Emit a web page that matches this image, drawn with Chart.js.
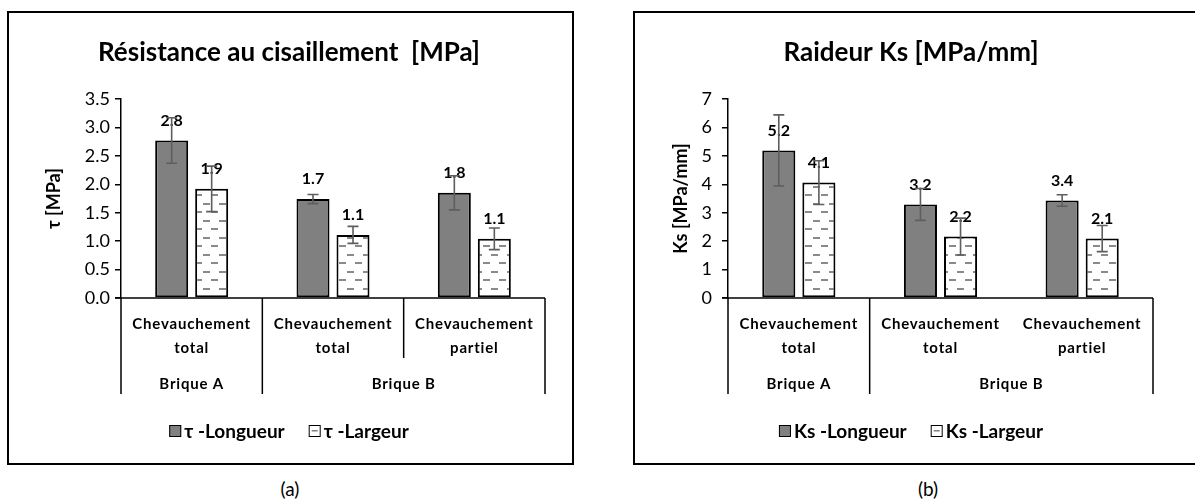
<!DOCTYPE html>
<html lang="fr">
<head>
<meta charset="UTF-8">
<title>Résistance au cisaillement et raideur Ks</title>
<script src="https://cdn.jsdelivr.net/npm/chart.js"></script>
<style>
  html, body { margin: 0; overflow: hidden; }
  body { width: 1195px; height: 501px; position: relative; background: #fff; font-family: Lato, sans-serif; }
  .box { position: absolute; top: 11px; height: 450px; border: 2px solid #000; }
  #boxA { left: 7px; width: 563px; }
  #boxB { left: 633px; width: 562px; border-right: none; }
  .caption { position: absolute; top: 477px; width: 60px; text-align: center; font-size: 19px; color: #000; }
</style>
</head>
<body>
<div class="box" id="boxA"><canvas id="chartA" width="563" height="450"></canvas></div>
<div class="box" id="boxB"><canvas id="chartB" width="560" height="450"></canvas></div>
<div class="caption" style="left:260px">(a)</div>
<div class="caption" style="left:898px">(b)</div>
<script>
// categories (two levels)
const subCategories = [['Chevauchement', 'total'], ['Chevauchement', 'total'], ['Chevauchement', 'partiel']];
const groupLabels = ['Brique A', 'Brique B'];
const groupSpans = [1, 2];

// (a) shear strength
const tauLongueur = [2.77, 1.74, 1.85];
const tauLongueurErr = [0.40, 0.08, 0.30];
const tauLongueurText = ['2.8', '1.7', '1.8'];
const tauLargeur = [1.92, 1.11, 1.04];
const tauLargeurErr = [0.40, 0.15, 0.19];
const tauLargeurText = ['1.9', '1.1', '1.1'];

// (b) stiffness
const ksLongueur = [5.19, 3.29, 3.43];
const ksLongueurErr = [1.25, 0.56, 0.20];
const ksLongueurText = ['5.2', '3.2', '3.4'];
const ksLargeur = [4.06, 2.16, 2.09];
const ksLargeurErr = [0.77, 0.65, 0.46];
const ksLargeurText = ['4.1', '2.2', '2.1'];

const FONT = 'Lato, sans-serif';

function dashPattern() {
  const c = document.createElement('canvas');
  c.width = 16; c.height = 17;
  const g = c.getContext('2d');
  g.fillStyle = '#fff';
  g.fillRect(0, 0, 16, 17);
  g.fillStyle = '#8a8a8a';
  g.fillRect(2, 3, 7, 2);
  g.fillRect(10, 11, 7, 2);
  g.fillRect(0, 11, 1, 2);
  return g.createPattern(c, 'repeat');
}

// error bars + value labels
const barExtras = {
  id: 'barExtras',
  afterDatasetsDraw(chart) {
    const ctx = chart.ctx;
    const y = chart.scales.y;
    ctx.save();
    chart.data.datasets.forEach((ds, di) => {
      chart.getDatasetMeta(di).data.forEach((bar, i) => {
        ctx.font = 'bold 16px ' + FONT;
        ctx.fillStyle = '#000';
        ctx.textAlign = 'center';
        ctx.textBaseline = 'middle';
        ctx.fillText(ds.valueText[i], bar.x, bar.y - 20);
      });
    });
    chart.data.datasets.forEach((ds, di) => {
      chart.getDatasetMeta(di).data.forEach((bar, i) => {
        const yt = y.getPixelForValue(ds.data[i] + ds.errors[i]);
        const yb = y.getPixelForValue(ds.data[i] - ds.errors[i]);
        ctx.strokeStyle = '#5e5e5e';
        ctx.lineWidth = 1.6;
        ctx.beginPath();
        ctx.moveTo(bar.x, yt); ctx.lineTo(bar.x, yb);
        ctx.moveTo(bar.x - 5.5, yt); ctx.lineTo(bar.x + 5.5, yt);
        ctx.moveTo(bar.x - 5.5, yb); ctx.lineTo(bar.x + 5.5, yb);
        ctx.stroke();
      });
    });
    ctx.restore();
  }
};

// multi-level category axis, title, y title, legend
const decorations = {
  id: 'decorations',
  afterDraw(chart, args, o) {
    const ctx = chart.ctx;
    const area = chart.chartArea;
    const x = chart.scales.x;
    const n = subCategories.length;
    const step = (area.right - area.left) / n;
    const bot = area.bottom;
    ctx.save();
    ctx.strokeStyle = '#000';
    ctx.lineWidth = 1.5;
    ctx.beginPath();
    ctx.moveTo(area.left - 6, bot); ctx.lineTo(area.right, bot);
    ctx.stroke();

    // group boundaries (full height) and inner boundaries
    let k = 0;
    const full = [0];
    groupSpans.forEach(s => { k += s; full.push(k); });
    ctx.beginPath();
    full.forEach(b => {
      const px = area.left + b * step;
      ctx.moveTo(px, bot); ctx.lineTo(px, bot + 96);
    });
    if (o.innerLines) {
      for (let b = 1; b < n; b++) {
        if (full.includes(b)) continue;
        const px = area.left + b * step;
        ctx.moveTo(px, bot); ctx.lineTo(px, bot + 60);
      }
    }
    ctx.stroke();

    ctx.fillStyle = '#000';
    ctx.textAlign = 'center';
    ctx.textBaseline = 'middle';
    ctx.font = 'bold 15px ' + FONT;
    ctx.letterSpacing = '0.8px';
    subCategories.forEach((lines, i) => {
      const cx = x.getPixelForValue(i);
      lines.forEach((t, j) => ctx.fillText(t, cx, bot + 26 + j * 24));
    });
    k = 0;
    groupLabels.forEach((g, gi) => {
      const cx = area.left + (k + groupSpans[gi] / 2) * step;
      ctx.fillText(g, cx, bot + 86);
      k += groupSpans[gi];
    });
    ctx.letterSpacing = '0px';

    // title
    ctx.font = 'bold 26px ' + FONT;
    ctx.fillText(o.title, o.centerX, 40);

    // y axis title
    ctx.save();
    ctx.translate(o.yTitleX, (area.top + area.bottom) / 2);
    ctx.rotate(-Math.PI / 2);
    ctx.font = 'bold 18px ' + FONT;
    ctx.fillText(o.yTitle, 0, 0);
    ctx.restore();

    // legend
    ctx.font = 'bold 19px ' + FONT;
    const items = chart.data.datasets.map(ds => ({ ds, w: 12 + 3 + ctx.measureText(ds.label).width }));
    const gap = 24;
    const total = items.reduce((s, it) => s + it.w, 0) + gap * (items.length - 1);
    let lx = o.centerX - total / 2;
    const ly = 418;
    ctx.textAlign = 'left';
    items.forEach(it => {
      ctx.fillStyle = it.ds.legendFill;
      ctx.fillRect(lx, ly - 6, 12, 12);
      if (it.ds.legendFill === '#fff') {
        ctx.fillStyle = '#808080';
        ctx.fillRect(lx + 3, ly - 1, 6, 1.5);
      }
      ctx.strokeStyle = '#000';
      ctx.lineWidth = 1;
      ctx.strokeRect(lx + 0.5, ly - 5.5, 11, 11);
      ctx.fillStyle = '#000';
      ctx.fillText(it.ds.label, lx + 15, ly + 1);
      lx += it.w + gap;
    });
    ctx.restore();
  }
};

function makeChart(id, cfg) {
  const pattern = dashPattern();
  return new Chart(document.getElementById(id), {
    type: 'bar',
    data: {
      labels: subCategories.map(l => l.join(' ')),
      datasets: [
        {
          label: cfg.names[0], data: cfg.dark, errors: cfg.darkErr, valueText: cfg.darkText,
          backgroundColor: '#808080', legendFill: '#808080',
          borderColor: '#000', borderWidth: 2, borderSkipped: false
        },
        {
          label: cfg.names[1], data: cfg.light, errors: cfg.lightErr, valueText: cfg.lightText,
          backgroundColor: pattern, legendFill: '#fff',
          borderColor: '#000', borderWidth: 2, borderSkipped: false
        }
      ]
    },
    options: {
      responsive: false,
      animation: false,
      layout: { padding: { top: 86, right: cfg.padRight, bottom: 165, left: 0 } },
      categoryPercentage: 0.566,
      barPercentage: 0.825,
      plugins: {
        legend: { display: false },
        title: { display: false },
        tooltip: { enabled: false },
        decorations: cfg.deco
      },
      scales: {
        x: { display: false },
        y: {
          min: 0, max: cfg.yMax,
          ticks: {
            stepSize: cfg.yStep, padding: cfg.tickPad, color: '#000',
            font: { family: FONT, size: 18 },
            callback: v => cfg.yStep < 1 ? v.toFixed(1) : String(v)
          },
          grid: { drawOnChartArea: false, tickLength: 6, color: '#000', lineWidth: 1.5 },
          border: { color: '#000', width: 1.5 },
          afterFit: s => { s.width = cfg.axisX; }
        }
      }
    },
    plugins: [barExtras, decorations]
  });
}

makeChart('chartA', {
  names: ['τ -Longueur', 'τ -Largeur'],
  dark: tauLongueur, darkErr: tauLongueurErr, darkText: tauLongueurText,
  light: tauLargeur, lightErr: tauLargeurErr, lightText: tauLargeurText,
  yMax: 3.5, yStep: 0.5, tickPad: 5, axisX: 112, padRight: 27,
  deco: { title: 'Résistance au cisaillement  [MPa]', yTitle: 'τ [MPa]', centerX: 280, yTitleX: 45, innerLines: true }
});

makeChart('chartB', {
  names: ['Ks -Longueur', 'Ks -Largeur'],
  dark: ksLongueur, darkErr: ksLongueurErr, darkText: ksLongueurText,
  light: ksLargeur, lightErr: ksLargeurErr, lightText: ksLargeurText,
  yMax: 7, yStep: 1, tickPad: 10, axisX: 93, padRight: 42,
  deco: { title: 'Raideur Ks [MPa/mm]', yTitle: 'Ks [MPa/mm]', centerX: 276, yTitleX: 46, innerLines: false }
});
</script>
</body>
</html>
